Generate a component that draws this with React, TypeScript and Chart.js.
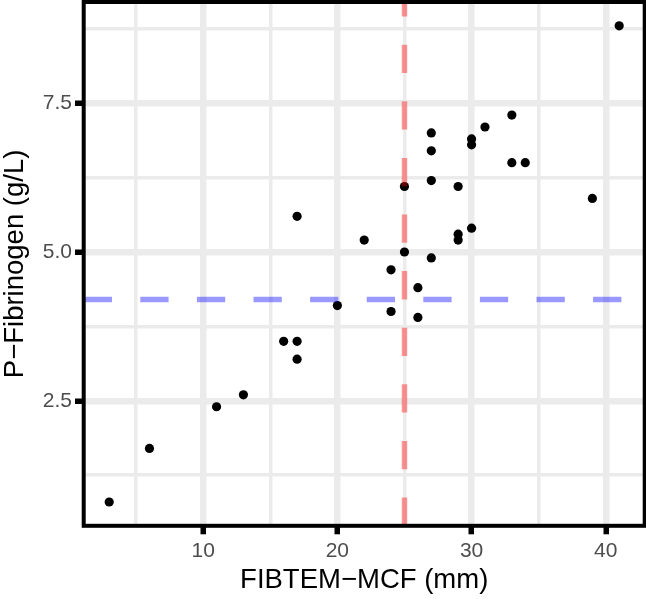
import React, { useEffect, useRef } from "react";
import { Chart, registerables } from "chart.js";

Chart.register(...registerables);

// Data
const fibtemMcf = [41, 33, 31, 27, 30, 30, 27, 33, 34, 27, 25, 29, 39, 17, 30, 29, 29, 22, 25, 27, 24, 26, 20, 24, 26, 16, 17, 17, 13, 11, 6, 3];
const pFibrinogen = [8.8, 7.3, 7.1, 7.0, 6.9, 6.8, 6.7, 6.5, 6.5, 6.2, 6.1, 6.1, 5.9, 5.6, 5.4, 5.3, 5.2, 5.2, 5.0, 4.9, 4.7, 4.4, 4.1, 4.0, 3.9, 3.5, 3.5, 3.2, 2.6, 2.4, 1.7, 0.8];

const thresholdMcf = 25;
const thresholdFib = 4.2;

const xRange = [1.1, 42.9];
const yRange = [0.4, 9.2];

const xGridValues = [5, 10, 15, 20, 25, 30, 35, 40];
const xMajorValues = [10, 20, 30, 40];
const xTickLabels = ["10", "20", "30", "40"];
const yGridValues = [1.25, 2.5, 3.75, 5, 6.25, 7.5, 8.75];
const yMajorValues = [2.5, 5, 7.5];
const yTickLabels = ["2.5", "5.0", "7.5"];

const xTitle = "FIBTEM\u2212MCF (mm)";
const yTitle = "P\u2212Fibrinogen (g/L)";

const FONT = "'Liberation Sans', Arial, Helvetica, sans-serif";
const GRID = "#EBEBEB";

const panelBorder = {
  id: "panelBorder",
  afterDraw(chart: any) {
    const { ctx, chartArea: a } = chart;
    ctx.save();
    ctx.strokeStyle = "#000000";
    ctx.lineWidth = 4;
    ctx.strokeRect(a.left, a.top, a.right - a.left, a.bottom - a.top);
    ctx.restore();
  },
};

const isMajor = (list: number[], v: number) => list.some((m) => Math.abs(m - v) < 1e-9);

const zeroPadding = (scale: any) => {
  scale.paddingTop = 0;
  scale.paddingBottom = 0;
  scale.paddingLeft = 0;
  scale.paddingRight = 0;
};

export default function App() {
  const canvasRef = useRef<HTMLCanvasElement | null>(null);

  useEffect(() => {
    if (!canvasRef.current) return;
    const points = fibtemMcf.map((x, i) => ({ x, y: pFibrinogen[i] }));
    const chart = new Chart(canvasRef.current, {
      type: "scatter",
      data: {
        datasets: [
          {
            label: "vline",
            data: [
              { x: thresholdMcf, y: yRange[0] },
              { x: thresholdMcf, y: yRange[1] },
            ],
            showLine: true,
            borderColor: "rgba(255,0,0,0.4)",
            borderWidth: 5.5,
            borderDash: [28.3, 28.3],
            borderCapStyle: "butt",
            pointRadius: 0,
            order: 0,
          } as any,
          {
            label: "hline",
            data: [
              { x: xRange[0], y: thresholdFib },
              { x: xRange[1], y: thresholdFib },
            ],
            showLine: true,
            borderColor: "rgba(0,0,255,0.4)",
            borderWidth: 5.5,
            borderDash: [28.3, 28.3],
            borderCapStyle: "butt",
            pointRadius: 0,
            order: 1,
          } as any,
          {
            label: "points",
            data: points,
            backgroundColor: "#000000",
            borderWidth: 0,
            pointRadius: 4.6,
            order: 2,
          },
        ],
      },
      options: {
        animation: false,
        responsive: false,
        devicePixelRatio: 1,
        events: [],
        layout: { autoPadding: false, padding: { left: 0, top: 2, right: 1.3, bottom: 0 } },
        plugins: { legend: { display: false }, tooltip: { enabled: false } },
        scales: {
          x: {
            type: "linear",
            min: xRange[0],
            max: xRange[1],
            afterBuildTicks: (scale: any) => {
              scale.ticks = xGridValues.map((v) => ({ value: v }));
            },
            afterFit: (scale: any) => {
              scale.height = 73.2;
              zeroPadding(scale);
            },
            border: { display: false },
            grid: {
              color: GRID,
              lineWidth: (c: any) => (isMajor(xMajorValues, c.tick?.value) ? 6.5 : 3.5),
              tickColor: (c: any) => (isMajor(xMajorValues, c.tick?.value) ? "#000000" : "rgba(0,0,0,0)"),
              tickWidth: (c: any) => (isMajor(xMajorValues, c.tick?.value) ? 5.5 : 0.01),
              tickLength: 8.5,
              drawTicks: true,
            },
            ticks: {
              autoSkip: false,
              maxRotation: 0,
              padding: 4,
              color: "#4D4D4D",
              font: { family: FONT, size: 21 },
              callback: (v: any) => {
                const i = xMajorValues.findIndex((m) => Math.abs(m - Number(v)) < 1e-9);
                return i >= 0 ? xTickLabels[i] : "";
              },
            },
            title: {
              display: true,
              text: xTitle,
              color: "#000000",
              font: { family: FONT, size: 27.5, lineHeight: 1 },
              padding: { top: 0, bottom: 5 },
            },
          },
          y: {
            type: "linear",
            min: yRange[0],
            max: yRange[1],
            afterBuildTicks: (scale: any) => {
              scale.ticks = yGridValues.map((v) => ({ value: v }));
            },
            afterFit: (scale: any) => {
              scale.width = 83.7;
              zeroPadding(scale);
            },
            border: { display: false },
            grid: {
              color: GRID,
              lineWidth: (c: any) => (isMajor(yMajorValues, c.tick?.value) ? 6.5 : 3.5),
              tickColor: (c: any) => (isMajor(yMajorValues, c.tick?.value) ? "#000000" : "rgba(0,0,0,0)"),
              tickWidth: (c: any) => (isMajor(yMajorValues, c.tick?.value) ? 5.5 : 0.01),
              tickLength: 8.7,
              drawTicks: true,
            },
            ticks: {
              autoSkip: false,
              padding: 3,
              color: "#4D4D4D",
              font: { family: FONT, size: 21 },
              callback: (v: any) => {
                const i = yMajorValues.findIndex((m) => Math.abs(m - Number(v)) < 1e-9);
                return i >= 0 ? yTickLabels[i] : "";
              },
            },
            title: {
              display: true,
              text: yTitle,
              color: "#000000",
              font: { family: FONT, size: 27.5, lineHeight: 1 },
              padding: { top: 1.5, bottom: 0 },
            },
          },
        },
      },
      plugins: [panelBorder],
    } as any);
    return () => chart.destroy();
  }, []);

  return (
    <div style={{ position: "absolute", left: 0, top: 0, width: 646, height: 599, background: "#FFFFFF" }}>
      <canvas ref={canvasRef} width={646} height={599} style={{ width: 646, height: 599, display: "block" }} />
    </div>
  );
}
